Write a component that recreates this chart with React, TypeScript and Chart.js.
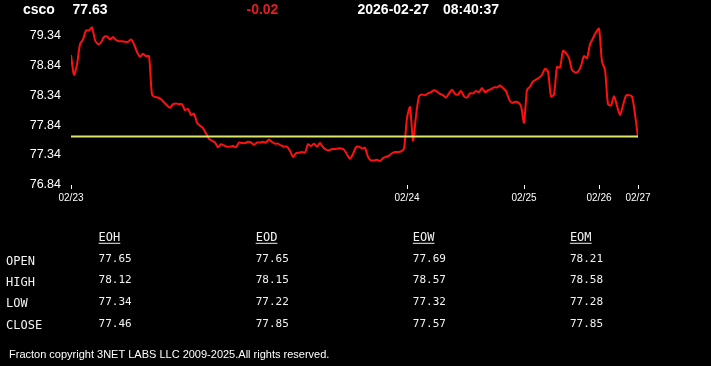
import React, { useEffect, useRef } from 'react';
import { Chart, registerables } from 'chart.js';

Chart.register(...registerables);

const symbol = 'csco';
const lastPrice = '77.63';
const change = '-0.02';
const dateStr = '2026-02-27';
const timeStr = '08:40:37';
const prevClose = 77.65;

const prices = [
  79.01, 78.68, 78.85, 79.19, 79.27, 79.42, 79.42, 79.47, 79.26, 79.19,
  79.22, 79.31, 79.32, 79.27, 79.31, 79.26, 79.24, 79.24, 79.23, 79.23,
  79.27, 79.19, 79.06, 78.98, 79.03, 78.99, 78.99, 78.35, 78.31, 78.30,
  78.27, 78.22, 78.17, 78.13, 78.19, 78.20, 78.19, 78.19, 78.09, 78.11,
  78.01, 78.03, 77.88, 77.83, 77.79, 77.70, 77.61, 77.58, 77.55, 77.47,
  77.52, 77.50, 77.48, 77.48, 77.49, 77.47, 77.55, 77.54, 77.54, 77.56,
  77.55, 77.51, 77.55, 77.55, 77.56, 77.55, 77.60, 77.56, 77.53, 77.53,
  77.50, 77.48, 77.48, 77.41, 77.31, 77.37, 77.38, 77.39, 77.38, 77.52,
  77.49, 77.53, 77.48, 77.54, 77.47, 77.43, 77.42, 77.44, 77.44, 77.45,
  77.45, 77.43, 77.35, 77.28, 77.36, 77.47, 77.48, 77.45, 77.46, 77.31,
  77.25, 77.25, 77.26, 77.24, 77.29, 77.31, 77.33, 77.37, 77.39, 77.39,
  77.40, 77.45, 77.96, 78.14, 77.58, 77.99, 78.32, 78.35, 78.34, 78.37,
  78.39, 78.42, 78.40, 78.36, 78.34, 78.30, 78.37, 78.43, 78.36, 78.35,
  78.41, 78.32, 78.30, 78.37, 78.37, 78.41, 78.39, 78.46, 78.39, 78.42,
  78.44, 78.47, 78.47, 78.50, 78.46, 78.41, 78.27, 78.21, 78.23, 78.22,
  78.16, 77.88, 78.43, 78.48, 78.57, 78.60, 78.63, 78.68, 78.78, 78.73,
  78.32, 78.35, 78.81, 78.80, 79.08, 79.04, 78.96, 78.76, 78.72, 78.73,
  78.83, 78.99, 78.96, 79.19, 79.29, 79.39, 79.45, 78.90, 78.76, 78.19,
  78.17, 78.32, 78.16, 78.01, 78.17, 78.33, 78.34, 78.32, 78.02, 77.63,
];

const dayTickIndex = [0, 112, 151, 176, 189];
const dayTickLabels = ['02/23', '02/24', '02/25', '02/26', '02/27'];
const yTicks = [76.84, 77.34, 77.84, 78.34, 78.84, 79.34];
const yMin = 76.84;
const yMax = 79.636;

const tableColumns = ['EOH', 'EOD', 'EOW', 'EOM'];
const tableRows = ['OPEN', 'HIGH', 'LOW', 'CLOSE'];
const eohValues = ['77.65', '78.12', '77.34', '77.46'];
const eodValues = ['77.65', '78.15', '77.22', '77.85'];
const eowValues = ['77.69', '78.57', '77.32', '77.57'];
const eomValues = ['78.21', '78.58', '77.28', '77.85'];
const footerText = 'Fracton copyright 3NET LABS LLC 2009-2025.All rights reserved.';

const textPlugin = {
  id: 'quoteText',
  afterDraw(chart: any) {
    const ctx = chart.ctx as CanvasRenderingContext2D;
    ctx.save();
    ctx.textBaseline = 'alphabetic';
    ctx.textAlign = 'left';
    // header
    ctx.font = 'bold 14px "Liberation Sans", Arial, sans-serif';
    ctx.fillStyle = '#ffffff';
    ctx.fillText(symbol, 23, 13.5);
    ctx.fillText(lastPrice, 72.5, 13.5);
    ctx.fillStyle = '#e41e1e';
    ctx.fillText(change, 246.5, 13.5);
    ctx.fillStyle = '#ffffff';
    ctx.fillText(dateStr, 357.5, 13.5);
    ctx.fillText(timeStr, 443, 13.5);

    // table
    const colX = [98.6, 255.7, 412.8, 569.9];
    const values = [eohValues, eodValues, eowValues, eomValues];
    const labelBase = [264.6, 286, 307.4, 328.8];
    const valueBase = [262, 283.4, 304.8, 326.6];
    ctx.fillStyle = '#f2f2f2';
    ctx.font = '12px "DejaVu Sans Mono", monospace';
    tableColumns.forEach((c, k) => {
      ctx.fillText(c, colX[k], 241.3);
      const w = ctx.measureText(c).width;
      ctx.fillRect(colX[k], 242.8, w, 1);
    });
    tableRows.forEach((r, j) => {
      ctx.fillText(r, 6, labelBase[j]);
    });
    ctx.font = '11px "DejaVu Sans Mono", monospace';
    values.forEach((col, k) => {
      col.forEach((v, j) => ctx.fillText(v, colX[k], valueBase[j]));
    });

    // footer
    ctx.fillStyle = '#ffffff';
    ctx.font = '11px "Liberation Sans", Arial, sans-serif';
    ctx.fillText(footerText, 9, 358.3);
    ctx.restore();
  },
};

export default function App() {
  const ref = useRef<HTMLCanvasElement>(null);
  useEffect(() => {
    const canvas = ref.current;
    if (!canvas) return;
    const chart = new Chart(canvas, {
      type: 'line',
      data: {
        datasets: [
          {
            label: 'prev',
            data: [
              { x: 0, y: prevClose },
              { x: prices.length - 1, y: prevClose },
            ],
            borderColor: '#dce66a',
            borderWidth: 2,
            pointRadius: 0,
            tension: 0,
          },
          {
            label: symbol,
            data: prices.map((p, i) => ({ x: i, y: p })),
            borderColor: '#ff1010',
            borderWidth: 2,
            pointRadius: 0,
            tension: 0.25,
          },
        ],
      },
      options: {
        responsive: false,
        animation: false,
        devicePixelRatio: 1,
        layout: { padding: { left: 0, top: 15, right: 73, bottom: 151 } },
        plugins: { legend: { display: false }, tooltip: { enabled: false } },
        scales: {
          x: {
            type: 'linear',
            min: 0,
            max: prices.length - 1,
            afterFit: (s: any) => {
              s.height = 30;
            },
            afterBuildTicks: (s: any) => {
              s.ticks = dayTickIndex.map((v) => ({ value: v }));
            },
            grid: {
              display: true,
              drawOnChartArea: false,
              drawTicks: true,
              tickLength: 4,
              color: '#ffffff',
              lineWidth: 1,
            },
            border: { display: false },
            ticks: {
              autoSkip: false,
              maxRotation: 0,
              padding: 3,
              color: '#ffffff',
              font: { family: '"Liberation Sans", Arial, sans-serif', size: 10 },
              callback: (v: any) => {
                const k = dayTickIndex.indexOf(Number(v));
                return k >= 0 ? dayTickLabels[k] : '';
              },
            },
          },
          y: {
            type: 'linear',
            min: yMin,
            max: yMax,
            afterFit: (s: any) => {
              s.width = 71;
            },
            afterBuildTicks: (s: any) => {
              s.ticks = yTicks.map((v) => ({ value: v }));
            },
            grid: { display: false, drawTicks: false },
            border: { display: false },
            ticks: {
              padding: 10,
              color: '#ffffff',
              font: { family: '"Liberation Sans", Arial, sans-serif', size: 12.5 },
              callback: (v: any) => Number(v).toFixed(2),
            },
          },
        },
      },
      plugins: [textPlugin],
    });
    return () => chart.destroy();
  }, []);
  return (
    <div
      style={{
        position: 'absolute',
        left: 0,
        top: 0,
        width: 711,
        height: 366,
        background: '#000',
        overflow: 'hidden',
      }}
    >
      <canvas ref={ref} width={711} height={366} style={{ display: 'block', width: 711, height: 366 }} />
    </div>
  );
}
